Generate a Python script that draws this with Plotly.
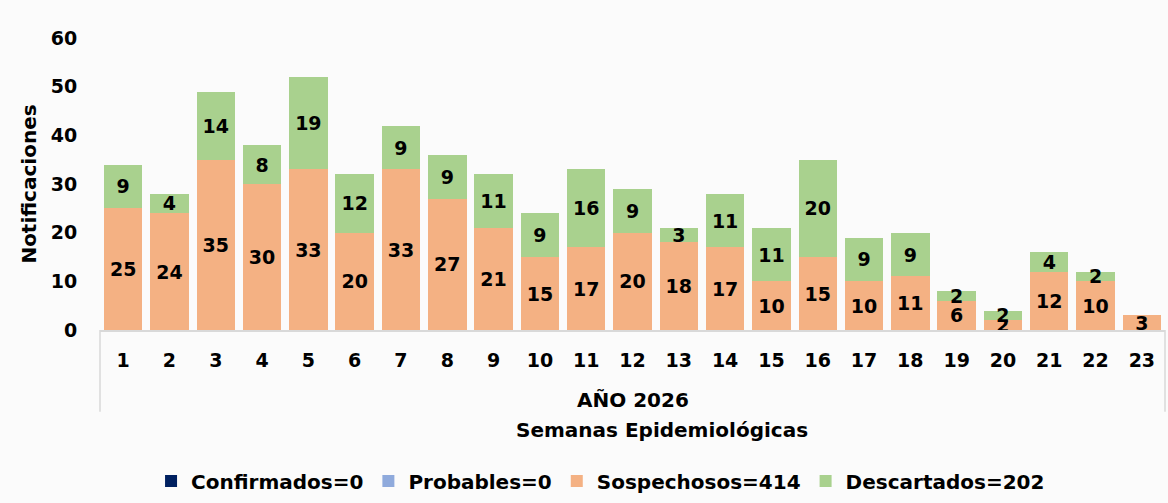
import plotly.graph_objects as go

semanas = [str(i) for i in range(1, 24)]
confirmados = [0] * 23
probables = [0] * 23
sospechosos = [25, 24, 35, 30, 33, 20, 33, 27, 21, 15, 17, 20, 18, 17, 10, 15, 10, 11, 6, 2, 12, 10, 3]
descartados = [9, 4, 14, 8, 19, 12, 9, 9, 11, 9, 16, 9, 3, 11, 11, 20, 9, 9, 2, 2, 4, 2, 0]

FONT = "DejaVu Sans"
SIZE = 19


def bold(size=SIZE):
    return dict(family=FONT, size=size, color="black", weight="bold")


fig = go.Figure()
fig.add_trace(go.Bar(x=semanas, y=confirmados, name="Confirmados=0", marker_color="#002060"))
fig.add_trace(go.Bar(x=semanas, y=probables, name="Probables=0", marker_color="#8FAADC"))
fig.add_trace(go.Bar(
    x=semanas, y=sospechosos, name="Sospechosos=414", marker_color="#F4B183",
    text=[str(v) if v else "" for v in sospechosos], textposition="inside", textangle=0,
    insidetextanchor="middle", constraintext="none", textfont=bold(),
))
fig.add_trace(go.Bar(
    x=semanas, y=descartados, name="Descartados=202", marker_color="#A9D18E",
    text=[str(v) if v else "" for v in descartados], textposition="inside", textangle=0,
    insidetextanchor="middle", constraintext="none", textfont=bold(),
))

fig.update_traces(marker_line_width=0)

fig.update_layout(
    barmode="stack",
    bargap=0.17,
    width=1168, height=503,
    margin=dict(l=100, r=3, t=38, b=173, autoexpand=False),
    paper_bgcolor="#fbfbfb",
    plot_bgcolor="#fbfbfb",
    font=bold(),
    showlegend=True,
    legend=dict(orientation="h", x=0.47, xanchor="center", y=-0.45, yanchor="top",
                font=bold(20), itemwidth=30, traceorder="normal"),
    xaxis=dict(showline=True, linecolor="#d9d9d9", linewidth=1.5, automargin=False,
               ticks="outside", ticklen=12, tickcolor="rgba(0,0,0,0)",
               tickfont=bold()),
    yaxis=dict(range=[0, 60], dtick=10, showgrid=False, zeroline=False, automargin=False,
               ticks="outside", ticklen=18, tickcolor="rgba(0,0,0,0)",
               tickfont=bold(),
               title=dict(text="Notificaciones", standoff=8, font=bold(20))),
)

# bordes laterales del eje de categorías
for xp in (0, 1):
    fig.add_shape(type="line", xref="paper", yref="paper", x0=xp, x1=xp, y0=0, y1=-0.28,
                  line=dict(color="#d9d9d9", width=1.5))

fig.add_annotation(text="AÑO 2026", xref="paper", yref="paper", x=0.5, y=-0.24,
                   showarrow=False, yanchor="middle", font=bold(20))
fig.add_annotation(text="Semanas Epidemiológicas", xref="paper", yref="paper", x=0.528, y=-0.342,
                   showarrow=False, yanchor="middle", font=bold(20))

fig.write_html("out.html", config={"displayModeBar": False},
               post_script="document.body.style.margin='0';")
